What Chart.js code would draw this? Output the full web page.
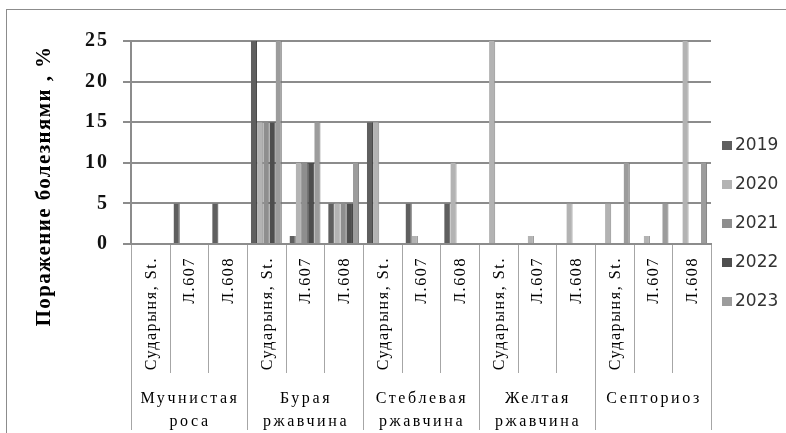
<!DOCTYPE html>
<html>
<head>
<meta charset="utf-8">
<script src="https://cdn.jsdelivr.net/npm/chart.js@4.4.1/dist/chart.umd.min.js"></script>
<style>
  body { margin: 0; background: #fff; overflow: hidden; }
  #frame { position: absolute; left: 6px; top: 9px; width: 800px; height: 450px; border: 1px solid #8c8c8c; }
  #mychart { position: absolute; left: 0; top: 0; }
</style>
</head>
<body>
<div id="frame"></div>
<canvas id="mychart" width="786" height="433"></canvas>
<script>
// Data
const varieties = ['Сударыня, St.', 'Л.607', 'Л.608'];
const diseases = [['Мучнистая', 'роса'], ['Бурая', 'ржавчина'], ['Стеблевая', 'ржавчина'], ['Желтая', 'ржавчина'], ['Септориоз']];
const years = ['2019', '2020', '2021', '2022', '2023'];
const yTicks = [0, 5, 10, 15, 20, 25];
const yTitle = 'Поражение болезнями , %';

const v2019 = [0, 5, 5, 25, 1, 5, 15, 5, 5, 0, 0, 0, 0, 0, 0];
const v2020 = [0, 0, 0, 15, 10, 5, 15, 1, 10, 25, 1, 5, 5, 1, 25];
const v2021 = [0, 0, 0, 15, 10, 5, 0, 0, 0, 0, 0, 0, 0, 0, 0];
const v2022 = [0, 0, 0, 15, 10, 5, 0, 0, 0, 0, 0, 0, 0, 0, 0];
const v2023 = [0, 0, 0, 25, 15, 10, 0, 0, 0, 0, 0, 0, 10, 5, 10];

const fills = ['#5f5f5f', '#b3b3b3', '#8e8e8e', '#4e4e4e', '#9c9c9c'];
const edges = ['#404040', '#8a8a8a', '#666666', '#333333', '#737373'];

// category labels: varieties repeated per disease
const labels = [];
diseases.forEach(function(){ varieties.forEach(function(v){ labels.push(v); }); });

const series = [v2019, v2020, v2021, v2022, v2023];
const datasets = series.map(function(vals, i){
  return {
    label: years[i],
    data: vals,
    backgroundColor: fills[i],
    borderColor: edges[i],
    borderWidth: {left: 0, right: 1, top: 0, bottom: 0},
    borderSkipped: 'start',
    categoryPercentage: 0.8,
    barPercentage: 1.0
  };
});

// Start axis texts, separators and legend
const extras = {
  id: 'extras',
  beforeDraw: function(chart){
    // spaced-out lettering like the original
    chart.ctx.letterSpacing = '2px';
  },
  beforeDatasetsDraw: function(chart){
    chart.ctx.letterSpacing = '0px';
  },
  afterDraw: function(chart){
    const c = chart.ctx;
    const x = chart.scales.x;
    const area = chart.chartArea;
    const n = labels.length;
    const w = (area.right - area.left) / n;
    const innerBottom = x.bottom - 2;
    const outerBottom = chart.height - 3;
    c.save();

    // separators
    c.strokeStyle = '#a6a6a6';
    c.lineWidth = 1;
    for (let i = 0; i <= n; i++) {
      const px = Math.round(area.left + i * w) + 0.5;
      c.beginPath();
      c.moveTo(px, area.bottom + 1);
      c.lineTo(px, i % varieties.length === 0 ? outerBottom : innerBottom);
      c.stroke();
    }

    // variety labels, rotated
    c.fillStyle = '#000';
    c.font = '16px "Liberation Serif", serif';
    c.letterSpacing = '1.6px';
    c.textAlign = 'right';
    c.textBaseline = 'middle';
    labels.forEach(function(t, i){
      c.save();
      c.translate(x.getPixelForValue(i) + 1, area.bottom + 13);
      c.rotate(-Math.PI / 2);
      c.fillText(t, 0, 0);
      c.restore();
    });

    // disease labels
    c.font = '16px "Liberation Serif", serif';
    c.letterSpacing = '2.6px';
    c.textAlign = 'center';
    c.textBaseline = 'alphabetic';
    diseases.forEach(function(lines, g){
      const first = x.getPixelForValue(g * varieties.length);
      const last = x.getPixelForValue(g * varieties.length + varieties.length - 1);
      const cx = (first + last) / 2 + 1;
      lines.forEach(function(t, k){
        c.fillText(t, cx, 403 + k * 23);
      });
    });

    // y title
    c.font = 'bold 21px "Liberation Serif", serif';
    c.letterSpacing = '1.4px';
    c.textAlign = 'center';
    c.textBaseline = 'middle';
    c.save();
    c.translate(45, 186);
    c.rotate(-Math.PI / 2);
    c.fillText(yTitle, 0, 0);
    c.restore();

    // legend
    c.letterSpacing = '0px';
    c.font = '17px "DejaVu Sans", sans-serif';
    c.textAlign = 'left';
    c.textBaseline = 'middle';
    chart.data.datasets.forEach(function(ds, i){
      const cy = 146 + i * 39;
      c.fillStyle = ds.backgroundColor;
      c.fillRect(area.right + 11, cy - 5, 10, 9);
      c.fillStyle = '#333';
      c.fillText(ds.label, area.right + 24, cy);
    });
    c.restore();
  }
};
// End extras

const ctx = document.getElementById('mychart');
new Chart(ctx, {
  type: 'bar',
  data: { labels: labels, datasets: datasets },
  options: {
    responsive: false,
    animation: false,
    layout: { padding: { left: 34, top: 41, right: 75, bottom: 58 } },
    plugins: {
      tooltip: { enabled: false },
      legend: { display: false }
    },
    scales: {
      x: {
        grid: { display: false },
        border: { display: true, color: '#8c8c8c', width: 2 },
        ticks: { display: false },
        afterFit: function(scale){ scale.height = 131; }
      },
      y: {
        min: 0,
        max: 25,
        afterBuildTicks: function(scale){ scale.ticks = yTicks.map(function(v){ return {value: v}; }); },
        grid: { color: '#8c8c8c', lineWidth: 2, tickLength: 8 },
        border: { display: true, color: '#8c8c8c', width: 2 },
        ticks: {
          padding: 14,
          crossAlign: 'near',
          color: '#111',
          font: { family: '"Liberation Serif", serif', size: 20, weight: '600' }
        },
        afterFit: function(scale){ scale.width = 97; }
      }
    }
  },
  plugins: [extras]
});
</script>
</body>
</html>
